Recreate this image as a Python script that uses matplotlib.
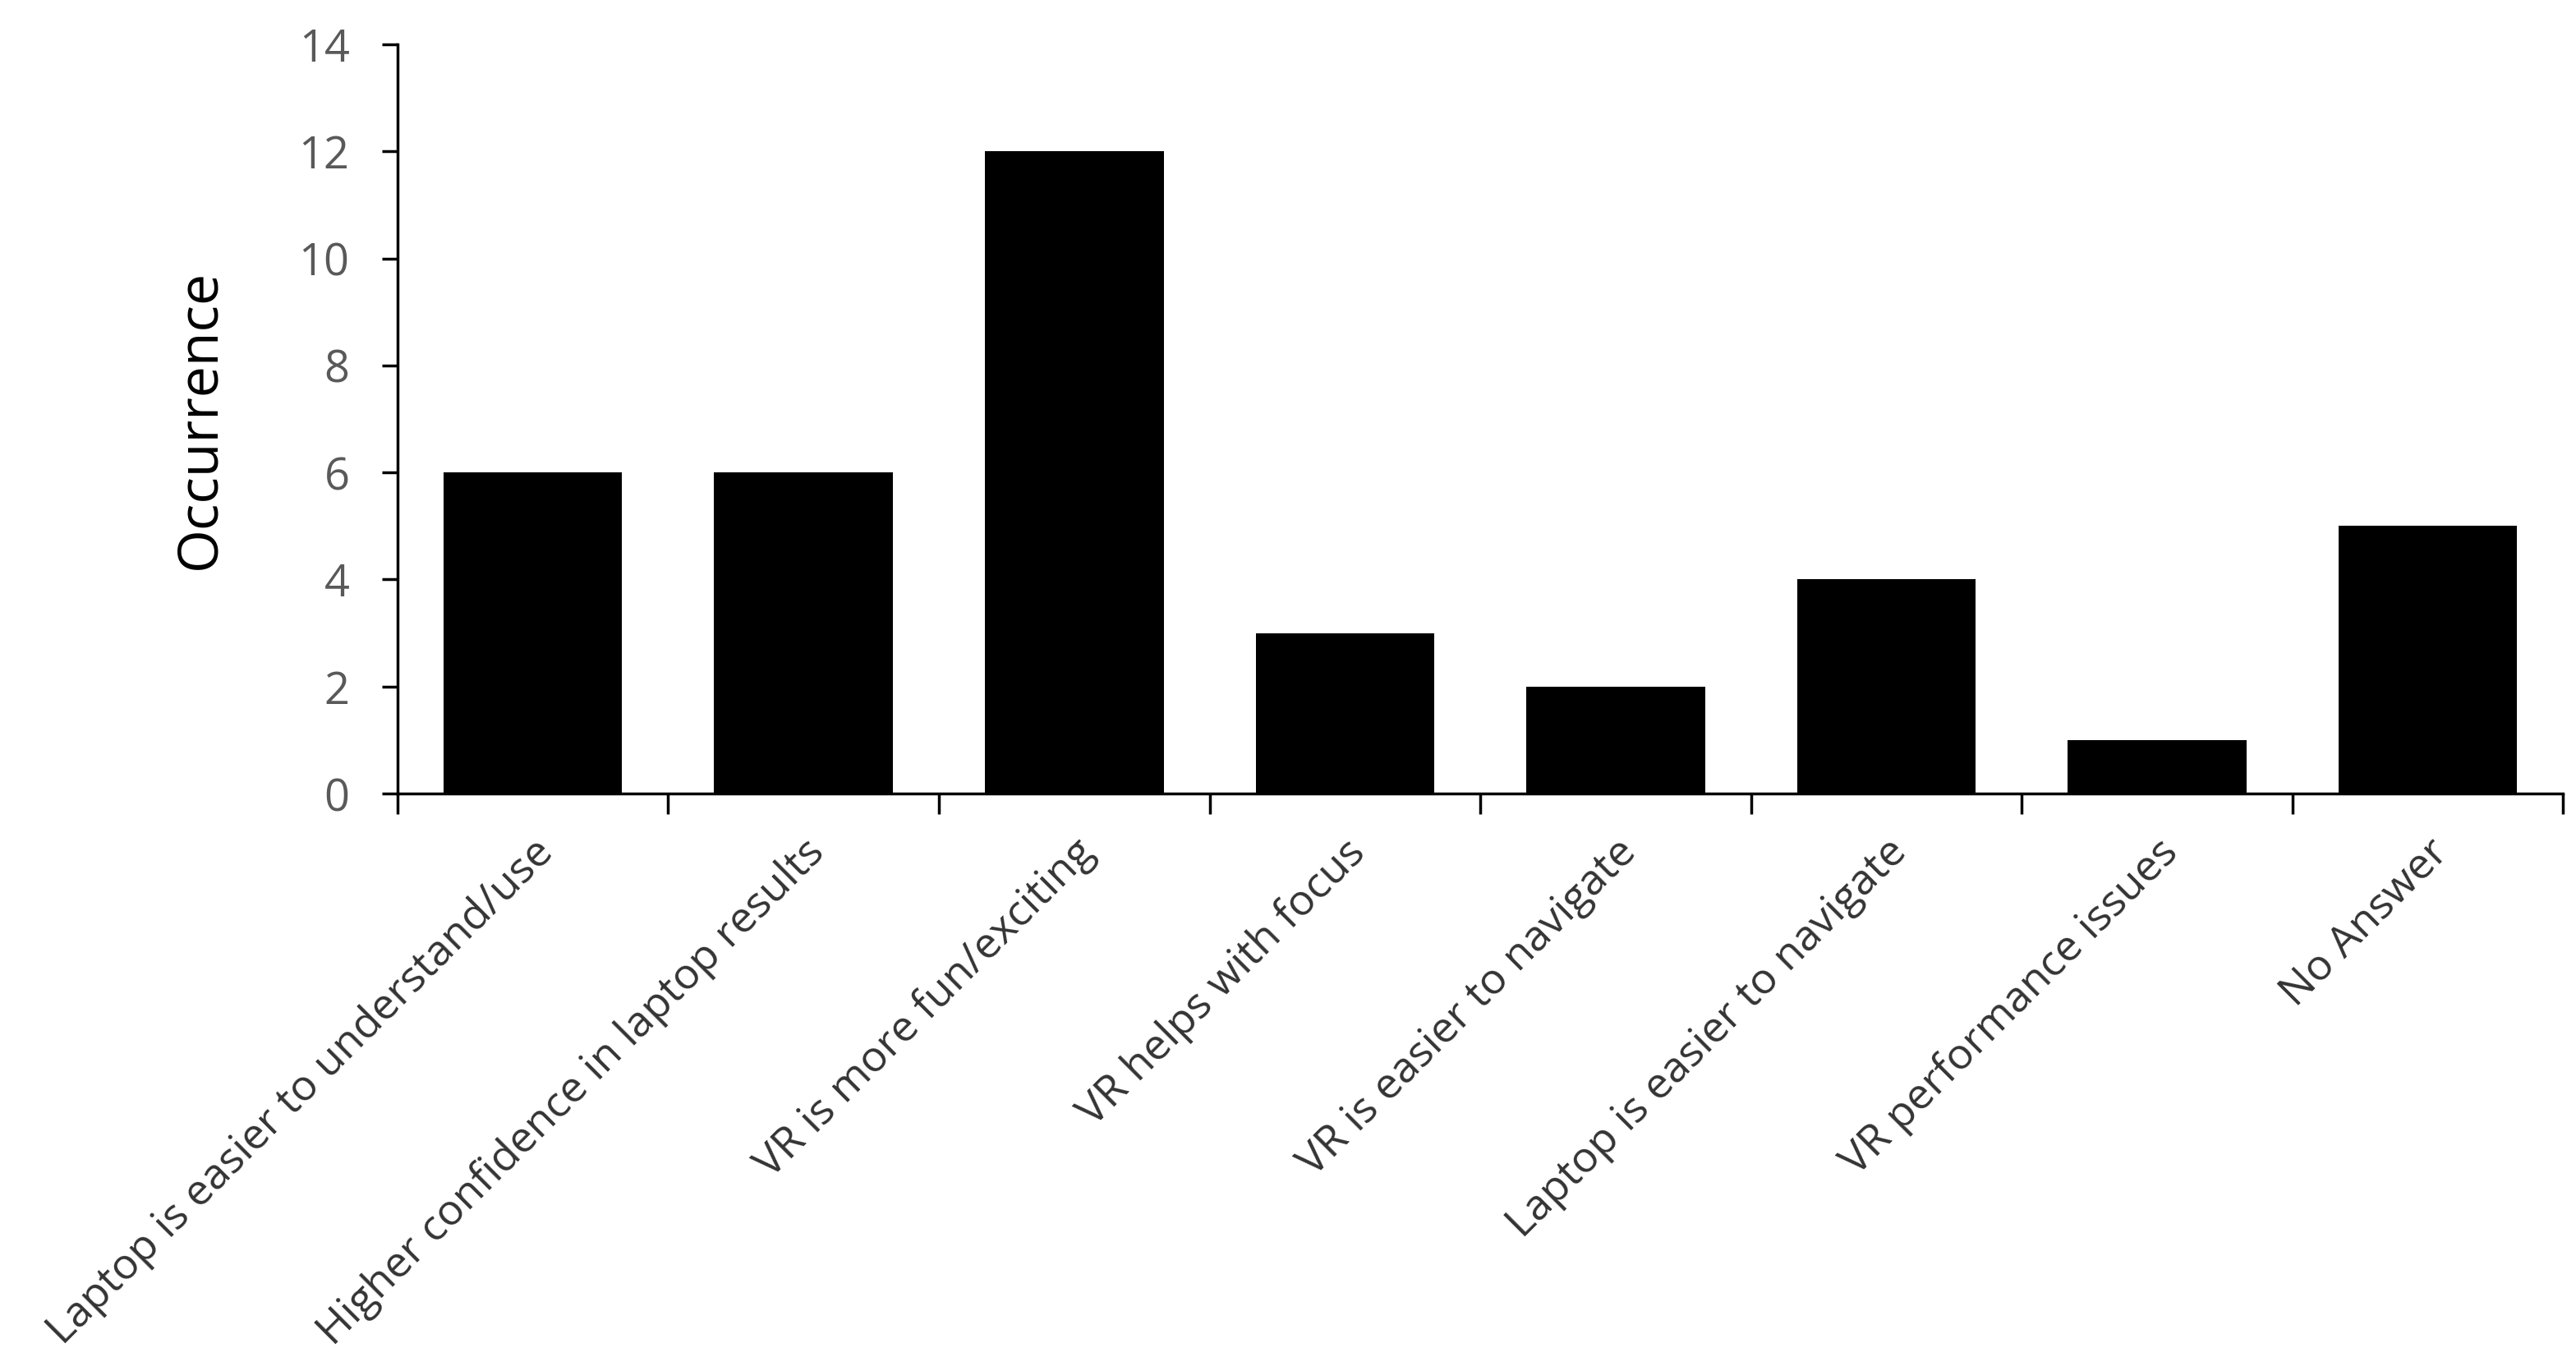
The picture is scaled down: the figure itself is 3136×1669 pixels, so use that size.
import matplotlib
matplotlib.use("Agg")
import matplotlib.pyplot as plt
from matplotlib.ticker import FixedLocator, NullFormatter
import matplotlib.transforms as mtransforms

categories = [
    "Laptop is easier to understand/use",
    "Higher confidence in laptop results",
    "VR is more fun/exciting",
    "VR helps with focus",
    "VR is easier to navigate",
    "Laptop is easier to navigate",
    "VR performance issues",
    "No Answer",
]
values = [6, 6, 12, 3, 2, 4, 1, 5]
y_ticks = [0, 2, 4, 6, 8, 10, 12, 14]
y_label = "Occurrence"

plt.rcParams['font.family'] = ['Open Sans', 'DejaVu Sans']

fig = plt.figure(figsize=(31.36, 16.69), dpi=100)
ax = fig.add_axes([0.1543, 0.4212, 0.8407, 0.5464])

x = list(range(len(categories)))
ax.bar(x, values, width=0.66, color='black', edgecolor='none', zorder=2)

ax.set_xlim(-0.5, len(categories) - 0.5)
ax.set_ylim(0, 14)
ax.set_yticks(y_ticks)
ax.set_yticklabels([str(v) for v in y_ticks])

for s in ['top', 'right']:
    ax.spines[s].set_visible(False)
for s in ['left', 'bottom']:
    ax.spines[s].set_linewidth(2.5)
    ax.spines[s].set_color('black')

ax.tick_params(axis='y', direction='out', length=14, width=2.5, labelsize=39,
               labelcolor='#595959', pad=28)
# x ticks at category boundaries
ax.xaxis.set_major_locator(FixedLocator([i - 0.5 for i in range(len(categories) + 1)]))
ax.xaxis.set_major_formatter(NullFormatter())
ax.tick_params(axis='x', which='major', direction='out', length=18, width=2.5)
ax.xaxis.set_minor_locator(FixedLocator(x))
ax.set_xticklabels(categories, minor=True, rotation=45, ha='right', va='top',
                   rotation_mode='anchor', fontsize=37.5, color='#333333')
ax.tick_params(axis='x', which='minor', length=0, pad=33)
offset = mtransforms.ScaledTranslation(-0.01, 0, fig.dpi_scale_trans)
for lab in ax.xaxis.get_minorticklabels():
    lab.set_transform(lab.get_transform() + offset)

ax.set_ylabel(y_label, fontsize=49, color='black', labelpad=62)

fig.savefig("out.png", dpi=100, facecolor='white')
